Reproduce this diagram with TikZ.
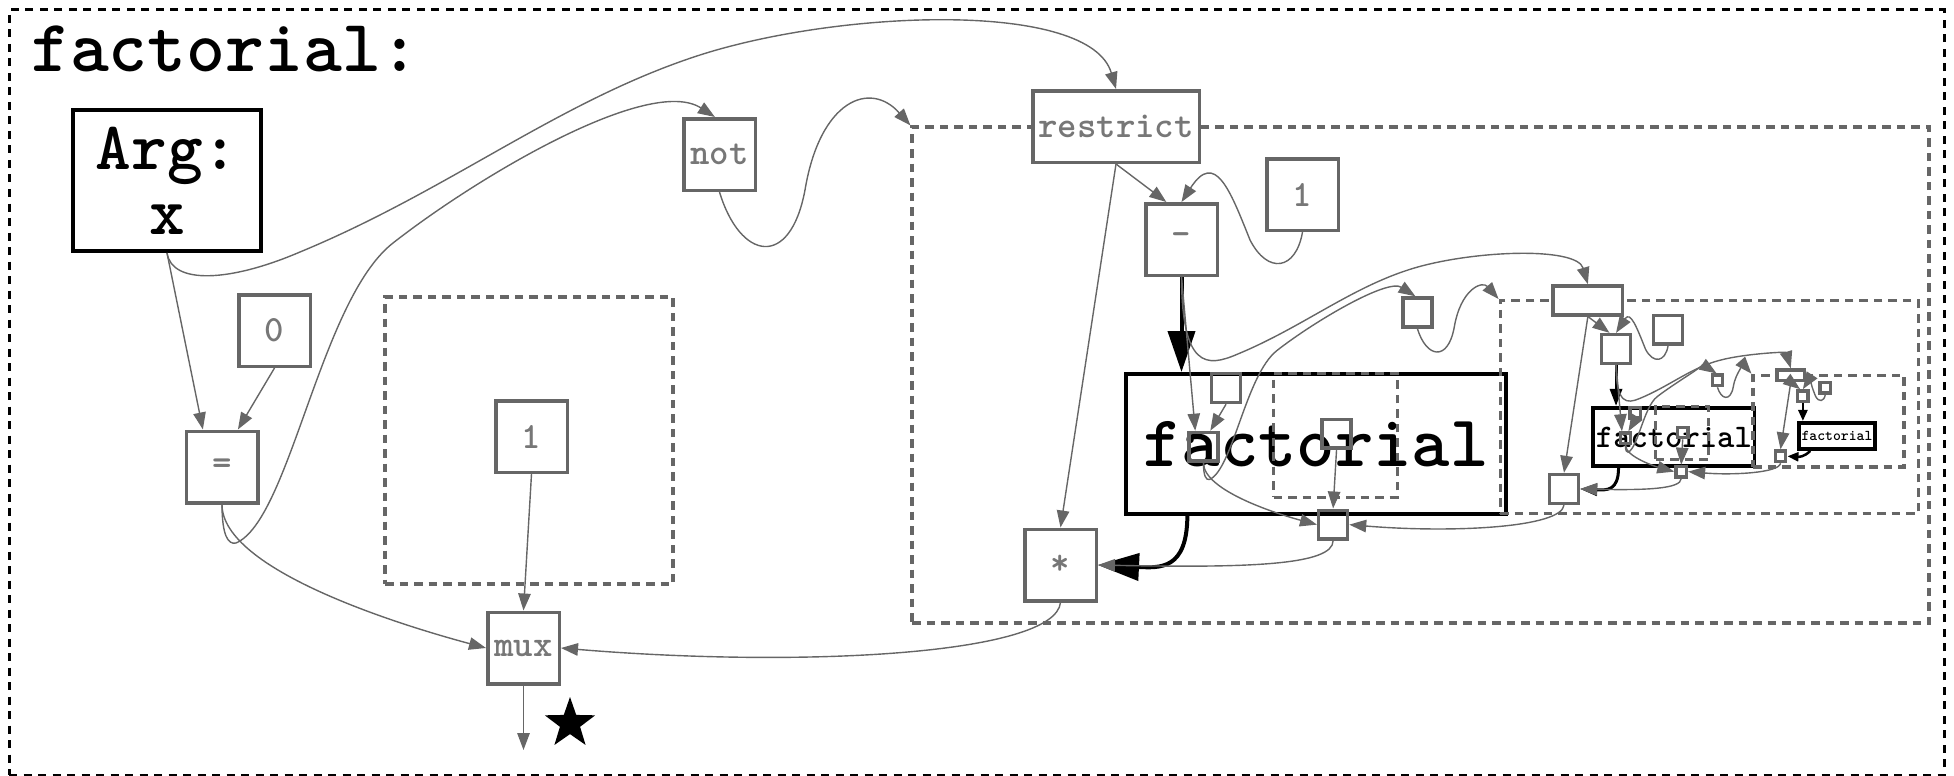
\documentclass[tikz,border=0pt]{standalone}
\usetikzlibrary{arrows.meta,calc,shapes.geometric}
\definecolor{gline}{HTML}{666666}
\definecolor{gtext}{HTML}{777777}
\newif\iffull
\newcommand\tfont[1]{\ttfamily\bfseries\fontsize{#1}{#1}\selectfont}
\newcommand\lab[1]{\iffull#1\fi}

\tikzset{
  gbox/.style={draw=gline, line width=3.5pt, inner sep=0pt, text=gtext, font=\tfont{37}},
  bbox/.style={draw=black, line width=3.8pt, fill=white, inner sep=0pt},
  dotbox/.style={draw=gline, line width=3.2pt, dash pattern=on 8.5pt off 6pt, inner sep=0pt},
  link/.style={draw=gline, line width=1.4pt, -{Triangle[length=17pt,width=12.5pt]}},
  callA/.style={draw=black, line width=4pt, -{Triangle[length=41pt,width=27pt]}},
  callB/.style={draw=black, line width=3pt, -{Triangle[length=17pt,width=12pt]}},
  callC/.style={draw=black, line width=2.5pt, -{Triangle[length=11pt,width=9pt]}},
}

% One unfolding of the definition, drawn in its own coordinates.
% #1 suffix, #2 scale, #3 right edge of the restrict frame,
% #4,#5 centre of the call box, #6,#7 its size, #8 its font size
\newcommand\level[8]{%
  \pgfmathsetmacro\lvBW{#2*75-3.5}%
  \pgfmathsetmacro\lvRW{#2*170-3.5}%
  \pgfmathsetmacro\lvDW{#2*288}%
  \pgfmathsetmacro\lvDH{#2*287}%
  \pgfmathsetmacro\lvFW{#2*#6-3.8}%
  \pgfmathsetmacro\lvFH{#2*#7-3.8}%
  \pgfmathsetmacro\lvRDW{#2*(#3-912)}%
  \pgfmathsetmacro\lvRDH{#2*496}%
  \pgfmathsetmacro\lvRDX{(#3+912)/2}%
  \node[dotbox, minimum width=\lvDW pt, minimum height=\lvDH pt] (dbox#1) at (529,440.5) {};
  \node[dotbox, minimum width=\lvRDW pt, minimum height=\lvRDH pt] (frame#1) at (\lvRDX,375) {};
  \node[gbox, minimum width=\lvBW pt, minimum height=\lvBW pt] (zero#1) at (274.5,330.5) {\lab{0}};
  \node[gbox, minimum width=\lvBW pt, minimum height=\lvBW pt] (eq#1) at (222,467) {\lab{=}};
  \node[gbox, minimum width=\lvBW pt, minimum height=\lvBW pt] (one#1) at (531.5,436.5) {\lab{1}};
  \node[gbox, minimum width=\lvBW pt, minimum height=\lvBW pt] (mux#1) at (523.5,648) {\lab{mux}};
  \node[gbox, minimum width=\lvBW pt, minimum height=\lvBW pt] (not#1) at (719.5,154.5) {\lab{not}};
  \node[gbox, fill=white, minimum width=\lvRW pt, minimum height=\lvBW pt] (restrict#1) at (1116,126.5) {\lab{restrict}};
  \node[gbox, minimum width=\lvBW pt, minimum height=\lvBW pt] (minus#1) at (1181.5,239.5) {\lab{-}};
  \node[gbox, minimum width=\lvBW pt, minimum height=\lvBW pt] (oneR#1) at (1302.5,194.5) {\lab{1}};
  \node[gbox, minimum width=\lvBW pt, minimum height=\lvBW pt] (times#1) at (1060.5,565) {\lab{*}};
  \node[bbox, minimum width=\lvFW pt, minimum height=\lvFH pt, font=\tfont{#8}] (fact#1) at (#4,#5) {factorial};
}

% Connectors inside one unfolding: #1 suffix, #2 node feeding the argument, #3 call arrow style
\newcommand\levellinks[3]{%
  \draw[link] (#2.south) -- (eq#1.117);
  \draw[link] (#2.south) .. controls (172,285) and (230,282) .. (300,252)
     .. controls (450,190) and (560,100) .. (700,55)
     .. controls (840,10) and (1090,0) .. (restrict#1.north);
  \draw[link] (zero#1.south) -- (eq#1.67);
  \draw[link] (eq#1.south) .. controls (222,570) and (400,625) .. (mux#1.west);
  \draw[link] (eq#1.south) .. controls (222,535) and (228,545) .. (236,543)
     .. controls (290,520) and (320,300) .. (393,243)
     .. controls (480,175) and (650,75) .. (not#1.97);
  \draw[link] (not#1.south) .. controls (740,260) and (790,270) .. (805,190)
     .. controls (820,100) and (870,80) .. (frame#1.north west);
  \draw[link] (one#1.south) -- (mux#1.north);
  \draw[link] (times#1.south) .. controls (1055,655) and (800,668) .. (mux#1.east);
  \draw[link] (restrict#1.south) -- (minus#1.112);
  \draw[link] (restrict#1.south) -- (times#1.north);
  \draw[link] (oneR#1.south) .. controls (1296,270) and (1268,275) .. (1250,240)
     .. controls (1230,190) and (1215,150) .. (minus#1.north);
  \draw[#3] (minus#1.south) -- (minus#1.south |- fact#1.north);
  \draw[#3] ($(fact#1.south west)!0.165!(fact#1.south east)$)
     .. controls (1187,570) and (1160,568) .. (times#1.east);
}

\begin{document}
\begin{tikzpicture}[x=1pt,y=-1pt]
\useasboundingbox (0,0) rectangle (1954,776);

% outer frame and heading
\node[draw=black, line width=3pt, dash pattern=on 8pt off 6.5pt, inner sep=0pt,
      minimum width=1935pt, minimum height=765pt] (outer) at (976.5,392.5) {};
\node[anchor=base west, inner sep=0pt, font=\tfont{74}] (title) at (31,72) {factorial:};
\node[bbox, minimum width=188pt, minimum height=141pt, align=center,
      font={\ttfamily\bfseries\fontsize{68}{65}\selectfont}] (arg) at (167,180.5) {Arg:\\x};

% first unfolding
\fulltrue
\level{1}{1}{1929}{1316}{444}{384}{144}{73}
\coordinate (out) at (523.5,750);
\node[star, star points=5, star point ratio=2.5, fill=black, inner sep=0pt, minimum size=53pt] (star) at (570,723.5) {};

% second unfolding
\begin{scope}[shift={(1108,246)}, scale=0.43]
  \fullfalse
  \level{2}{0.43}{1884}{1316}{444}{384}{144}{33}
\end{scope}

% third unfolding
\begin{scope}[shift={(1584.4,351.8)}, scale=0.1849]
  \fullfalse
  \level{3}{0.1849}{1728}{1366}{455}{432}{162}{15}
\end{scope}

% connectors
\levellinks{1}{arg}{callA}
\draw[link] (mux1.south) -- (out);

\begin{scope}[shift={(1108,246)}, scale=0.43]
  \levellinks{2}{minus1}{callB}
  \draw[link] (mux2.south) .. controls (523,742) and (330,749) .. (times1.east);
\end{scope}

\begin{scope}[shift={(1584.4,351.8)}, scale=0.1849]
  \levellinks{3}{minus2}{callC}
  \draw[link] (mux3.south) .. controls (523,742) and (330,749) .. (times2.east);
\end{scope}
\end{tikzpicture}
\end{document}
